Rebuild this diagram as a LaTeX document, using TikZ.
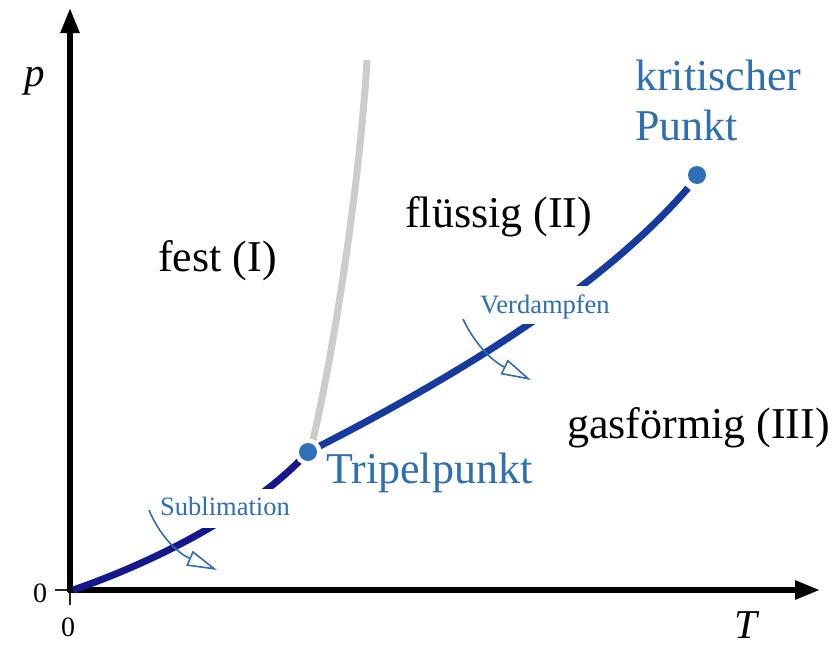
\documentclass[tikz,border=0pt]{standalone}
\usepackage{fontspec}
\setmainfont{Liberation Serif}
\usetikzlibrary{arrows.meta}
\definecolor{lblue}{RGB}{46,110,178}
\definecolor{dotblue}{RGB}{48,112,184}
\definecolor{navyA}{RGB}{20,24,140}
\definecolor{navyB}{RGB}{22,58,158}
\definecolor{grayline}{RGB}{204,204,204}
\tikzset{
  big/.style={font=\fontsize{44}{50}\selectfont, inner sep=0pt, anchor=base west},
  bigblue/.style={big, text=lblue},
  smalllbl/.style={font=\fontsize{26.5}{30}\selectfont, text=lblue, fill=white,
     inner xsep=4pt, inner ysep=0pt, anchor=base west},
  axisline/.style={line width=5.5pt, -{Triangle[length=25pt,width=18pt]}},
  tickline/.style={line width=2pt, black!85},
  curveline/.style={line width=7pt},
  transarrow/.style={lblue, line width=1.6pt, -{Triangle[open, length=30pt, width=16pt]}},
  axislbl/.style={font=\fontsize{28}{32}\selectfont, inner sep=0pt, anchor=base, text depth=0pt},
  varlbl/.style={font=\fontsize{41}{46}\selectfont\itshape, inner sep=0pt, anchor=base},
}
\begin{document}
\begin{tikzpicture}[x=1pt,y=-1pt]
\useasboundingbox (0,0) rectangle (840,648);
% named points
\coordinate (O) at (70,590);
\coordinate (ystart) at (70,592);
\coordinate (xstart) at (68,590);
\coordinate (ytip) at (70,8);
\coordinate (xtip) at (820,590);
\coordinate (C0) at (73,590);
\coordinate (TP) at (308,452);
\coordinate (KP) at (697,175);
\coordinate (KPend) at (688,188);
\coordinate (Gtop) at (367,60);
\coordinate (Gbot) at (313,440);
% ticks
\draw[tickline] (55,590) -- (O);
\draw[tickline] (O) -- (70,605);
% axes
\draw[axisline] (ystart) -- (ytip);
\draw[axisline] (xstart) -- (xtip);
% axis labels
\node[axislbl] (zeroy) at (40,602) {0};
\node[axislbl] (zerox) at (68,636) {0};
\node[varlbl] (plbl) at (35,86) {p};
\node[varlbl, text depth=0pt] (Tlbl) at (746,638) {T};
% melting curve (grey)
\draw[grayline, line width=7pt] (Gbot) .. controls (335,345) and (360,180) .. (Gtop);
% sublimation curve
\draw[curveline, navyA] (C0) .. controls (160,560) and (255,510) .. (TP);
% vapour pressure curve
\draw[curveline, navyB] (TP) .. controls (450,380) and (600,290) .. (KPend);
% labels with white background
\node[smalllbl, text height=26pt, text depth=13pt] (subl) at (156,515) {Sublimation};
\node[smalllbl, text height=27pt, text depth=11pt] (verd) at (476,313) {Verdampfen};
% transition arrows
\coordinate (s1) at (149,510);
\coordinate (s2) at (217,570);
\coordinate (v1) at (463,319);
\coordinate (v2) at (531,380);
\draw[transarrow] (s1) .. controls (158,532) and (175,552) .. (s2);
\draw[transarrow] (v1) .. controls (474,342) and (490,360) .. (v2);
% points
\fill[white] (TP) circle (13.5);
\fill[dotblue] (TP) circle (9);
\fill[dotblue] (KP) circle (9);
% region labels
\node[big] (fest) at (158,271) {fest (I)};
\node[big] (fl) at (405,227) {flüssig (II)};
\node[big] (gas) at (567,438) {gasförmig (III)};
\node[bigblue] (tri) at (326,483) {Tripelpunkt};
\node[bigblue] (krit) at (635,90) {kritischer};
\node[bigblue] (punkt) at (635,140) {Punkt};
\end{tikzpicture}
\end{document}
